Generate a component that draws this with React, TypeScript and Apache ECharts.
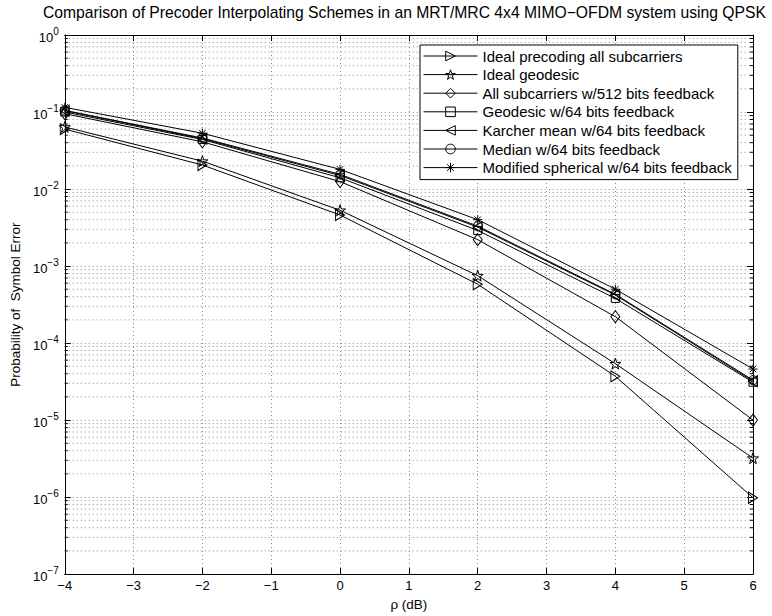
import React, { useEffect, useRef } from 'react';
import * as echarts from 'echarts';

// ---- data ----
const rho = [-4, -2, 0, 2, 4, 6];
const idealPrecoding = [0.06, 0.0205, 0.0046, 0.00058, 3.7e-5, 9.8e-7];
const idealGeodesic = [0.064, 0.023, 0.0053, 0.00075, 5.4e-5, 3.2e-6];
const allSub512 = [0.095, 0.041, 0.0125, 0.0022, 0.00022, 1.0e-5];
const geodesic64 = [0.1, 0.044, 0.014, 0.0029, 0.00038, 3.1e-5];
const karcher64 = [0.104, 0.045, 0.015, 0.0032, 0.00042, 3.2e-5];
const median64 = [0.105, 0.046, 0.0155, 0.0033, 0.00043, 3.3e-5];
const modified64 = [0.115, 0.053, 0.018, 0.004, 0.0005, 4.6e-5];

const seriesNames = [
  'Ideal precoding all subcarriers',
  'Ideal geodesic',
  'All subcarriers w/512 bits feedback',
  'Geodesic w/64 bits feedback',
  'Karcher mean w/64 bits feedback',
  'Median w/64 bits feedback',
  'Modified spherical w/64 bits feedback',
];

const xTicks = [-4, -3, -2, -1, 0, 1, 2, 3, 4, 5, 6];
const yMin = 1e-7;
const yMax = 1;
const minorMultipliers = [2, 3, 4, 5, 6, 7, 8, 9];
const minorDecades = [-7, -6, -5, -4, -3, -2, -1];

const titleText =
  'Comparison of Precoder Interpolating Schemes in an MRT/MRC 4x4 MIMO\u2212OFDM system using QPSK';
const yName = 'Probability of  Symbol Error';
const xName = '\u03c1 (dB)';

const FONT = '"Liberation Sans", Arial, Helvetica, sans-serif';

const STAR =
  'path://M0,-10L2.245,-3.09L9.51,-3.09L3.63,1.18L5.88,8.09L0,3.82L-5.88,8.09L-3.63,1.18L-9.51,-3.09L-2.245,-3.09Z';
const ASTERISK = 'path://M0,-10L0,10M-10,0L10,0M-7.07,-7.07L7.07,7.07M-7.07,7.07L7.07,-7.07';

const GRID_COLOR = '#888';

export default function App() {
  const ref = useRef<HTMLDivElement>(null);

  useEffect(() => {
    if (!ref.current) return;
    const chart = echarts.init(ref.current, undefined, { renderer: 'svg' });
    const xMin = xTicks[0];
    const xMax = xTicks[xTicks.length - 1];

    const minorVals: number[] = [];
    minorDecades.forEach((d) => minorMultipliers.forEach((m) => minorVals.push(m * Math.pow(10, d))));

    const mk = (name: string, vals: number[], symbol: string, size: any, rotate = 0) => ({
      type: 'line',
      name,
      data: rho.map((x, i) => [x, vals[i]]),
      symbol,
      symbolSize: size,
      symbolRotate: rotate,
      showSymbol: true,
      lineStyle: { color: '#000', width: 1 },
      itemStyle: { color: 'rgba(0,0,0,0)', borderColor: '#000', borderWidth: 1 },
      emphasis: { disabled: true },
      z: 3,
    });

    const supText = (e: number) => (e < 0 ? '\u2212' + -e : String(e));

    const option: any = {
      animation: false,
      backgroundColor: '#fff',
      textStyle: { fontFamily: FONT },
      title: {
        text: titleText,
        left: 43,
        top: 4,
        padding: 0,
        textStyle: { fontSize: 15.7, fontWeight: 'normal', fontFamily: FONT, color: '#000' },
      },
      grid: { left: 63, right: 19, top: 35, bottom: 40, show: false },
      legend: {
        data: seriesNames,
        orient: 'vertical',
        left: 420,
        top: 45,
        padding: [3, 6, 4, 3],
        itemWidth: 54,
        itemHeight: 12,
        itemGap: 2.6,
        borderColor: '#000',
        borderWidth: 1,
        backgroundColor: '#fff',
        itemStyle: { color: 'rgba(0,0,0,0)', borderColor: '#000', borderWidth: 1 },
        lineStyle: { color: '#000', width: 1 },
        textStyle: { fontSize: 15, lineHeight: 16, color: '#000', fontFamily: FONT },
        selectedMode: false,
      },
      xAxis: [
        {
          type: 'value',
          min: xMin,
          max: xMax,
          interval: 1,
          name: xName,
          nameLocation: 'middle',
          nameGap: 20,
          nameTextStyle: { fontSize: 13.5, color: '#000', fontFamily: FONT },
          axisLine: { onZero: false, lineStyle: { color: '#000', width: 1 } },
          axisTick: { inside: true, length: 6, lineStyle: { color: '#000' } },
          axisLabel: {
            color: '#000',
            fontSize: 13,
            margin: 5,
            fontFamily: FONT,
            formatter: (v: number) => String(v).replace('-', '\u2212'),
          },
          splitLine: { show: true, lineStyle: { color: GRID_COLOR, width: 1, type: [1, 3] } },
        },
        {
          type: 'value',
          position: 'top',
          min: xMin,
          max: xMax,
          interval: 1,
          axisLine: { onZero: false, lineStyle: { color: '#000', width: 1 } },
          axisTick: { inside: true, length: 6, lineStyle: { color: '#000' } },
          axisLabel: { show: false },
          splitLine: { show: false },
        },
      ],
      yAxis: [
        {
          type: 'log',
          logBase: 10,
          min: yMin,
          max: yMax,
          splitNumber: 7,
          name: yName,
          nameLocation: 'middle',
          nameGap: 39,
          nameTextStyle: { fontSize: 13.5, color: '#000', fontFamily: FONT },
          axisLine: { onZero: false, lineStyle: { color: '#000', width: 1 } },
          axisTick: { inside: true, length: 6, lineStyle: { color: '#000' } },
          axisLabel: {
            margin: 6,
            formatter: (v: number) => {
              const e = Math.round(Math.log10(v));
              return '{b|10}{s|' + supText(e) + '}';
            },
            rich: {
              b: { fontSize: 13, color: '#000', fontFamily: FONT, padding: [5, 0, 0, 0] },
              s: { fontSize: 10, color: '#000', fontFamily: FONT, padding: [0, 0, 7, 0] },
            },
          },
          splitLine: { show: true, lineStyle: { color: GRID_COLOR, width: 1, type: [1, 3] } },
        },
        {
          type: 'log',
          logBase: 10,
          position: 'right',
          min: yMin,
          max: yMax,
          splitNumber: 7,
          axisLine: { onZero: false, lineStyle: { color: '#000', width: 1 } },
          axisTick: { inside: true, length: 6, lineStyle: { color: '#000' } },
          axisLabel: { show: false },
          splitLine: { show: false },
        },
      ],
      series: [
        {
          type: 'custom',
          silent: true,
          z: 1,
          data: minorVals.map((v) => [xMin, v]),
          renderItem: (_params: any, api: any) => {
            const v = api.value(1);
            const p0 = api.coord([xMin, v]);
            const p1 = api.coord([xMax, v]);
            return {
              type: 'group',
              children: [
                {
                  type: 'line',
                  shape: { x1: p0[0], y1: p0[1], x2: p1[0], y2: p1[1] },
                  style: { stroke: GRID_COLOR, lineWidth: 1, lineDash: [1, 3] },
                },
                {
                  type: 'line',
                  shape: { x1: p0[0], y1: p0[1], x2: p0[0] + 3, y2: p0[1] },
                  style: { stroke: '#000', lineWidth: 1 },
                },
                {
                  type: 'line',
                  shape: { x1: p1[0] - 3, y1: p1[1], x2: p1[0], y2: p1[1] },
                  style: { stroke: '#000', lineWidth: 1 },
                },
              ],
            };
          },
        },
        mk(seriesNames[0], idealPrecoding, 'triangle', [11, 9], -90),
        mk(seriesNames[1], idealGeodesic, STAR, 11),
        mk(seriesNames[2], allSub512, 'diamond', [9, 12]),
        mk(seriesNames[3], geodesic64, 'rect', 8),
        mk(seriesNames[4], karcher64, 'triangle', [11, 9], 90),
        mk(seriesNames[5], median64, 'circle', 9),
        mk(seriesNames[6], modified64, ASTERISK, 9),
      ],
    };

    chart.setOption(option);
    return () => chart.dispose();
  }, []);

  return <div ref={ref} style={{ width: 772, height: 616, position: 'absolute', left: 0, top: 0 }} />;
}
